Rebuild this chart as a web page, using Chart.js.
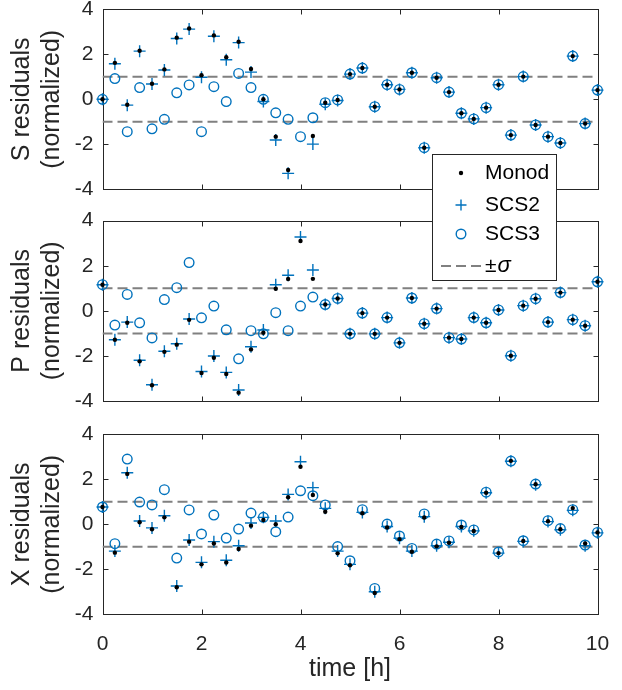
<!DOCTYPE html>
<html>
<head>
<meta charset="utf-8">
<script src="https://cdn.jsdelivr.net/npm/chart.js@4/dist/chart.umd.min.js"></script>
<style>
  html, body { margin: 0; padding: 0; background: #fff; }
  #wrap { position: relative; width: 622px; height: 690px; }
  #wrap canvas { position: absolute; left: 0; top: 0; }
</style>
</head>
<body>
<div id="wrap">
  <canvas id="cX" width="622" height="690"></canvas>
  <canvas id="cP" width="622" height="690"></canvas>
  <canvas id="cS" width="622" height="690"></canvas>
</div>
<script>
// sample times [h]
const times = [0, 0.25, 0.5, 0.75, 1, 1.25, 1.5, 1.75, 2, 2.25, 2.5, 2.75, 3, 3.25, 3.5, 3.75,
  4, 4.25, 4.5, 4.75, 5, 5.25, 5.5, 5.75, 6, 6.25, 6.5, 6.75, 7, 7.25, 7.5, 7.75,
  8, 8.25, 8.5, 8.75, 9, 9.25, 9.5, 9.75, 10];

// S residuals (normalized)
const monodS = [0, 1.62, -0.24, 2.16, 0.69, 1.33, 2.74, 3.15, 1.07, 2.84, 1.87, 2.56, 1.35, 0, -1.66, -3.14, null, -1.63,
  -0.15, -0.03, 1.12, 1.39, -0.33, 0.65, 0.44, 1.18, -2.15, 0.96, 0.32, -0.62, -0.87, -0.37, 0.65, -1.59, 1.01, -1.14,
  -1.66, -1.94, 1.92, -1.08, 0.41];
const scs2S = [0, 1.58, -0.26, 2.14, 0.68, 1.3, 2.7, 3.12, 0.98, 2.8, 1.76, 2.52, 1.21, -0.1, -1.81, -3.29, null, -1.99,
  -0.22, -0.05, 1.12, 1.39, -0.33, 0.65, 0.44, 1.18, -2.15, 0.96, 0.32, -0.62, -0.87, -0.37, 0.65, -1.59, 1.01, -1.14,
  -1.66, -1.94, 1.92, -1.08, 0.41];
const scs3S = [0, 0.92, -1.44, 0.52, -1.31, -0.89, 0.29, 0.64, -1.44, 0.56, -0.1, 1.15, 0.52, 0, -0.6, -0.89, -1.66, -0.82,
  -0.15, -0.03, 1.12, 1.39, -0.33, 0.65, 0.44, 1.18, -2.15, 0.96, 0.32, -0.62, -0.87, -0.37, 0.65, -1.59, 1.01, -1.14,
  -1.66, -1.94, 1.92, -1.08, 0.41];

// P residuals (normalized)
const monodP = [1.16, -1.28, -0.53, -2.24, -3.3, -1.82, -1.5, -0.4, -2.76, -2.08, -2.8, -3.63, -1.71, -0.97, 0.98, 1.41,
  3.1, 1.42, 0.28, 0.55, -1.02, -0.1, -1.02, -0.3, -1.42, 0.57, -0.57, 0.1, -1.19, -1.25, -0.3, -0.53, 0.04, -1.99,
  0.23, 0.54, -0.5, 0.81, -0.39, -0.66, 1.29];
const scs2P = [1.16, -1.28, -0.5, -2.19, -3.28, -1.79, -1.46, -0.36, -2.69, -2.0, -2.73, -3.51, -1.59, -0.85, 1.16, 1.58,
  3.28, 1.81, 0.28, 0.55, -1.02, -0.1, -1.02, -0.3, -1.42, 0.57, -0.57, 0.1, -1.19, -1.25, -0.3, -0.53, 0.04, -1.99,
  0.23, 0.54, -0.5, 0.81, -0.39, -0.66, 1.29];
const scs3P = [1.16, -0.63, 0.73, -0.53, -1.2, 0.5, 1.03, 2.14, -0.31, 0.21, -0.84, -2.13, -0.88, -1.02, -0.08, -0.88,
  0.21, 0.61, 0.28, 0.55, -1.02, -0.1, -1.02, -0.3, -1.42, 0.57, -0.57, 0.1, -1.19, -1.25, -0.3, -0.53, 0.04, -1.99,
  0.23, 0.54, -0.5, 0.81, -0.39, -0.66, 1.29];

// X residuals (normalized)
const monodX = [0.77, -1.26, 2.24, 0.09, -0.22, 0.31, -2.8, -0.77, -1.78, -0.85, -1.7, -1.1, -0.06, 0.19, 0, 1.2,
  2.56, 1.3, 0.56, -1.29, -1.82, 0.49, -3.05, -0.14, -0.66, -1.22, 0.3, -0.98, -0.82, -0.12, -0.3, 1.4, -1.28, 2.82,
  -0.74, 1.78, 0.14, -0.22, 0.72, -0.85, -0.36];
const scs2X = [0.77, -1.19, 2.29, 0.15, -0.16, 0.38, -2.74, -0.7, -1.69, -0.77, -1.6, -0.95, 0.06, 0.31, 0.15, 1.33,
  2.78, 1.63, 0.71, -1.19, -1.78, 0.53, -3.0, -0.1, -0.62, -1.19, 0.34, -0.95, -0.8, -0.1, -0.29, 1.4, -1.28, 2.8,
  -0.76, 1.76, 0.12, -0.24, 0.62, -0.95, -0.38];
const scs3X = [0.77, -0.86, 2.9, 0.99, 0.86, 1.54, -1.5, 0.64, -0.43, 0.41, -0.61, -0.21, 0.5, 0.31, -0.33, 0.32,
  1.49, 1.27, 0.86, -0.99, -1.62, 0.65, -2.85, 0.01, -0.52, -1.07, 0.46, -0.88, -0.74, -0.03, -0.25, 1.43, -1.23, 2.81,
  -0.73, 1.79, 0.16, -0.19, 0.65, -0.92, -0.36];

const sigma = 1;
const timeRange = [0, 10];
const xTicks = [0, 2, 4, 6, 8, 10];
const yTicks = [-4, -2, 0, 2, 4];

const FONT = '"Liberation Sans", Arial, Helvetica, sans-serif';
const BLUE = '#0072BD';
const AXIS = '#262626';
const GRAY = '#808080';

const toPoints = (vals) => times.map((t, i) => ({ x: t, y: vals[i] }));

function makeDatasets(monod, scs2, scs3) {
  return [
    { label: 'Monod', data: toPoints(monod), showLine: false, pointStyle: 'circle', pointRadius: 2.2,
      backgroundColor: '#000', borderColor: '#000', borderWidth: 0, clip: false },
    { label: 'SCS2', data: toPoints(scs2), showLine: false, pointStyle: 'cross', pointRadius: 6,
      backgroundColor: BLUE, borderColor: BLUE, borderWidth: 1.4, clip: false },
    { label: 'SCS3', data: toPoints(scs3), showLine: false, pointStyle: 'circle', pointRadius: 4.8,
      backgroundColor: 'rgba(0,0,0,0)', borderColor: BLUE, borderWidth: 1.4, clip: false },
    { label: '±σ', data: [{ x: timeRange[0], y: sigma }, { x: timeRange[1], y: sigma }], showLine: true,
      borderColor: GRAY, borderWidth: 2, borderDash: [10, 5], pointRadius: 0 },
    { label: '', data: [{ x: timeRange[0], y: -sigma }, { x: timeRange[1], y: -sigma }], showLine: true,
      borderColor: GRAY, borderWidth: 2, borderDash: [10, 5], pointRadius: 0 }
  ];
}

// box with inward ticks on all four sides
const framePlugin = {
  id: 'frame',
  beforeDatasetsDraw(chart) {
    const { ctx, chartArea: a, scales } = chart;
    const L = Math.round(a.left) + 0.5, R = Math.round(a.right) + 0.5;
    const T = Math.round(a.top) + 0.5, B = Math.round(a.bottom) + 0.5;
    ctx.save();
    ctx.strokeStyle = AXIS;
    ctx.lineWidth = 1;
    ctx.strokeRect(L, T, R - L, B - T);
    ctx.beginPath();
    xTicks.forEach(v => {
      const px = Math.round(scales.x.getPixelForValue(v)) + 0.5;
      ctx.moveTo(px, B); ctx.lineTo(px, B - 5);
      ctx.moveTo(px, T); ctx.lineTo(px, T + 5);
    });
    yTicks.forEach(v => {
      const py = Math.round(scales.y.getPixelForValue(v)) + 0.5;
      ctx.moveTo(L, py); ctx.lineTo(L + 5, py);
      ctx.moveTo(R, py); ctx.lineTo(R - 5, py);
    });
    ctx.stroke();
    ctx.restore();
  }
};

// legend box floating over the top two panels
const legendPlugin = {
  id: 'floatLegend',
  afterDraw(chart) {
    const { ctx } = chart;
    const box = { left: 432.5, top: 154.5, right: 556.5, bottom: 280.5 };
    const rows = [173, 205, 234, 266];
    const markX = 461, textX = 485;
    ctx.save();
    ctx.fillStyle = '#fff';
    ctx.fillRect(box.left, box.top, box.right - box.left, box.bottom - box.top);
    ctx.strokeStyle = AXIS;
    ctx.lineWidth = 1;
    ctx.strokeRect(box.left, box.top, box.right - box.left, box.bottom - box.top);
    const items = chart.data.datasets.filter(d => d.label);
    items.forEach((d, i) => {
      const y = rows[i];
      ctx.save();
      if (d.showLine) {
        ctx.strokeStyle = d.borderColor;
        ctx.lineWidth = d.borderWidth;
        ctx.setLineDash(d.borderDash || []);
        ctx.beginPath();
        ctx.moveTo(441, y); ctx.lineTo(483, y);
        ctx.stroke();
      } else if (d.pointStyle === 'cross') {
        ctx.strokeStyle = d.borderColor;
        ctx.lineWidth = d.borderWidth;
        ctx.beginPath();
        ctx.moveTo(markX - 5.5, y); ctx.lineTo(markX + 5.5, y);
        ctx.moveTo(markX, y - 5.5); ctx.lineTo(markX, y + 5.5);
        ctx.stroke();
      } else {
        ctx.beginPath();
        ctx.arc(markX, y, d.pointRadius, 0, Math.PI * 2);
        if (d.borderWidth > 0) {
          ctx.strokeStyle = d.borderColor; ctx.lineWidth = d.borderWidth; ctx.stroke();
        } else {
          ctx.fillStyle = d.backgroundColor; ctx.fill();
        }
      }
      ctx.restore();
      ctx.fillStyle = '#000';
      ctx.textBaseline = 'middle';
      ctx.textAlign = 'left';
      if (d.label === '±σ') {
        ctx.font = '21px ' + FONT;
        ctx.fillText('±', textX, y);
        const w = ctx.measureText('±').width;
        ctx.font = 'italic 22px ' + FONT;
        ctx.fillText('σ', textX + w + 1, y);
      } else {
        ctx.font = '21px ' + FONT;
        ctx.fillText(d.label, textX, y);
      }
    });
    ctx.restore();
  }
};

function makePanel(id, yTitle, padTop, padBottom, showX, datasets, extraPlugins) {
  return new Chart(document.getElementById(id), {
    type: 'scatter',
    data: { datasets: datasets },
    options: {
      responsive: false,
      animation: false,
      events: [],
      devicePixelRatio: 1,
      layout: { padding: { top: padTop, bottom: padBottom, left: 0, right: 24.5 } },
      plugins: { legend: { display: false }, tooltip: { enabled: false } },
      scales: {
        x: {
          type: 'linear', min: timeRange[0], max: timeRange[1], display: showX,
          grid: { display: false, drawTicks: false }, border: { display: false },
          ticks: { stepSize: 2, maxRotation: 0, padding: 21, color: AXIS,
            font: { family: FONT, size: 21, lineHeight: 0.85 } },
          title: { display: true, text: 'time [h]', color: AXIS,
            font: { family: FONT, size: 25, lineHeight: 1.2 }, padding: { top: 0, bottom: 6 } },
          // fixed axis height; drop label overflow so the plot area keeps its width
          afterFit: s => {
            if (s.options.display) s.height = 75.7;
            s.paddingLeft = 0; s.paddingRight = 0;
          }
        },
        y: {
          min: -4, max: 4,
          grid: { display: false, drawTicks: false }, border: { display: false },
          ticks: { stepSize: 2, padding: 9, color: AXIS,
            font: { family: FONT, size: 21 } },
          title: { display: true, text: yTitle, color: AXIS,
            font: { family: FONT, size: 25, lineHeight: 1.2 }, padding: { top: 7, bottom: 0 } },
          afterFit: s => {
            s.width = 102.5;
            s.paddingTop = 0; s.paddingBottom = 0;
          }
        }
      }
    },
    plugins: [framePlugin].concat(extraPlugins || [])
  });
}

makePanel('cX', ['X residuals', '(normalized)'], 434.3, 0, true, makeDatasets(monodX, scs2X, scs3X));
makePanel('cP', ['P residuals', '(normalized)'], 220.7, 289, false, makeDatasets(monodP, scs2P, scs3P));
makePanel('cS', ['S residuals', '(normalized)'], 9.3, 500.7, false, makeDatasets(monodS, scs2S, scs3S), [legendPlugin]);
</script>
</body>
</html>
